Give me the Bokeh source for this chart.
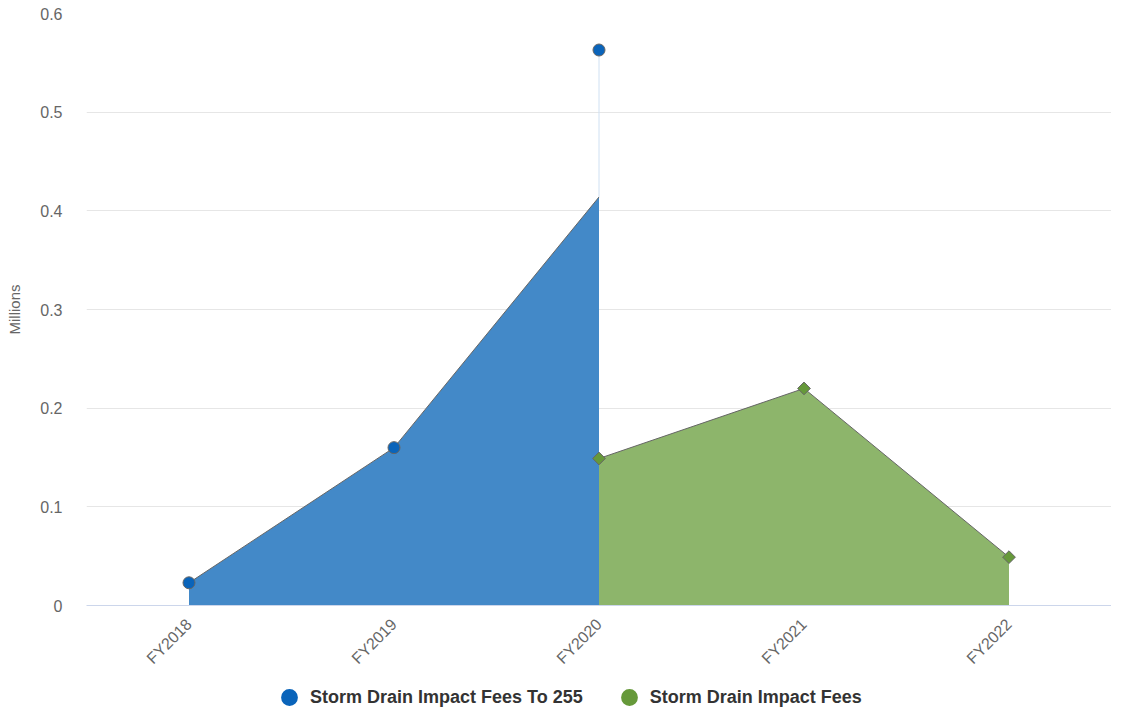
import math
from bokeh.plotting import figure
from bokeh.layouts import column
from bokeh.models import Range1d, FactorRange, Legend, LegendItem, FixedTicker, NumeralTickFormatter
from bokeh.embed import file_html
from bokeh.resources import INLINE

categories = ["FY2018", "FY2019", "FY2020", "FY2021", "FY2022"]
to_255 = [0.023, 0.160, 0.414, None, None]
fees = [None, None, 0.149, 0.220, 0.049]
series_names = ["Storm Drain Impact Fees To 255", "Storm Drain Impact Fees"]
y_ticks = [0, 0.1, 0.2, 0.3, 0.4, 0.5, 0.6]

BLUE_AREA = "#4389c8"
BLUE_MARK = "#0a64ba"
GREEN_AREA = "#8db56b"
GREEN_MARK = "#66993a"
EDGE = "#666666"

p = figure(width=1111, height=686, x_range=FactorRange(*categories, range_padding=0),
           y_range=Range1d(0, 0.6), output_backend="svg", toolbar_location=None,
           min_border_left=86, min_border_right=0, min_border_top=13, min_border_bottom=81)
p.outline_line_color = None
p.background_fill_color = "white"

# series 1 (blue)
b_idx = [i for i, v in enumerate(to_255) if v is not None]
b_x = [categories[i] for i in b_idx]
b_y = [to_255[i] for i in b_idx]
b_stack = [to_255[i] + (fees[i] or 0) for i in b_idx]
p.varea(x=b_x, y1=[0] * len(b_x), y2=b_y, fill_color=BLUE_AREA, fill_alpha=1)
p.line(x=b_x, y=b_y, line_color=EDGE, line_width=1)
for i in b_idx:
    if fees[i] is not None:
        p.segment(x0=[categories[i]], y0=[to_255[i]], x1=[categories[i]], y1=[to_255[i] + fees[i]],
                  line_color="#cfe0f2", line_width=1)

# series 2 (green)
g_idx = [i for i, v in enumerate(fees) if v is not None]
g_x = [categories[i] for i in g_idx]
g_y = [fees[i] for i in g_idx]
p.varea(x=g_x, y1=[0] * len(g_x), y2=g_y, fill_color=GREEN_AREA, fill_alpha=1)
p.line(x=g_x, y=g_y, line_color=EDGE, line_width=1)

p.scatter(x=b_x, y=b_stack, marker="circle", size=12, fill_color=BLUE_MARK, line_color=EDGE, line_width=1)
p.scatter(x=g_x, y=g_y, marker="square", angle=math.pi / 4, size=9, fill_color=GREEN_MARK,
          line_color=EDGE, line_width=1)

# axes
p.yaxis.ticker = FixedTicker(ticks=y_ticks)
p.yaxis.formatter = NumeralTickFormatter(format="0.[0]")
p.yaxis.axis_line_color = None
p.yaxis.major_tick_line_color = None
p.yaxis.minor_tick_line_color = None
p.yaxis.major_tick_out = 0
p.yaxis.major_tick_in = 0
p.yaxis.major_label_text_font = "Liberation Sans"
p.yaxis.major_label_text_font_size = "16px"
p.yaxis.major_label_text_color = "#666666"
p.yaxis.major_label_standoff = 24
p.yaxis.axis_label = "Millions"
p.yaxis.axis_label_text_font = "Liberation Sans"
p.yaxis.axis_label_text_font_style = "normal"
p.yaxis.axis_label_text_font_size = "15px"
p.yaxis.axis_label_text_color = "#666666"
p.yaxis.axis_label_standoff = 14

p.xaxis.axis_line_color = "#ccd6eb"
p.xaxis.major_tick_line_color = None
p.xaxis.minor_tick_line_color = None
p.xaxis.major_tick_out = 0
p.xaxis.major_tick_in = 0
p.xaxis.major_label_orientation = math.pi / 4
p.xaxis.major_label_text_font = "Liberation Sans"
p.xaxis.major_label_text_font_size = "16px"
p.xaxis.major_label_text_color = "#666666"
p.xaxis.major_label_standoff = 16

p.xgrid.grid_line_color = None
p.ygrid.grid_line_color = "#e6e6e6"

# legend strip below the chart
lp = figure(width=1111, height=22, x_range=Range1d(0, 1), y_range=Range1d(0, 1),
            output_backend="svg", toolbar_location=None, x_axis_location=None,
            y_axis_location=None, min_border=0)
lp.outline_line_color = None
lp.grid.grid_line_color = None
nan = float("nan")
r1 = lp.scatter(x=[nan], y=[nan], marker="circle", size=16, fill_color=BLUE_MARK, line_color=None)
r2 = lp.scatter(x=[nan], y=[nan], marker="circle", size=16, fill_color=GREEN_MARK, line_color=None)
lg = Legend(items=[LegendItem(label=series_names[0], renderers=[r1]),
                   LegendItem(label=series_names[1], renderers=[r2])],
            location=(182, -10), orientation="horizontal", padding=0, margin=0, spacing=25,
            glyph_width=42, glyph_height=42, label_standoff=0, label_height=20,
            border_line_color=None, background_fill_alpha=0,
            label_text_font="Liberation Sans", label_text_font_style="bold",
            label_text_font_size="18px", label_text_color="#333333")
lp.add_layout(lg, "center")

layout = column(p, lp, spacing=0)
open("out.html", "w").write(file_html(layout, INLINE))
